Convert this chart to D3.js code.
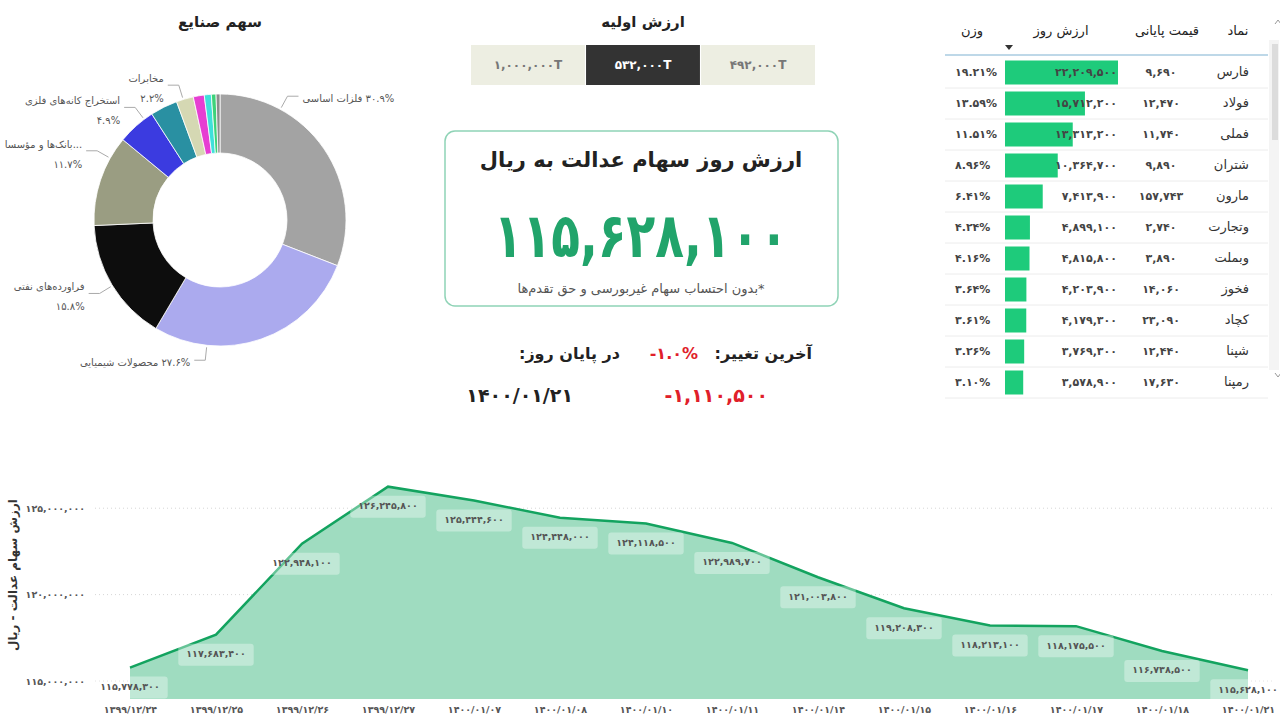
<!DOCTYPE html>
<html>
<head>
<meta charset="utf-8">
<script src="https://cdn.jsdelivr.net/npm/d3@7"></script>
<style>
  body { margin: 0; background: #fff; }
  svg { display: block; font-family: "DejaVu Sans", sans-serif; }
</style>
</head>
<body>
<script>
// ---- data ----
var industryNames = ["فلزات اساسی", "محصولات شیمیایی", "فراورده‌های نفتی", "...بانک‌ها و مؤسسا",
                     "استخراج کانه‌های فلزی", "سرمایه‌گذاری‌ها", "مخابرات", "خودرو", "سیمان", "دارویی", "سایر"];
var industryShares = [30.9, 27.6, 15.8, 11.7, 4.9, 3.5, 2.2, 1.4, 0.9, 0.6, 0.5];
var industryColors = ["#a3a3a3", "#abaaee", "#0d0d0d", "#9a9d82", "#3b3be0", "#2990a2",
                      "#d5d8b3", "#e63ed2", "#3fe0da", "#3ed27a", "#8c8c8c"];

var initialValues = ["1,000,000T", "532,000T", "492,000T"];
var selectedInitial = "532,000T";

var tableHeaders = ["نماد", "قیمت پایانی", "ارزش روز", "وزن"];
var tableSymbols = ["فارس", "فولاد", "فملی", "شتران", "مارون", "وتجارت", "وبملت", "فخوز", "کچاد", "شپنا", "رمپنا"];
var tablePrices = [9690, 12470, 11740, 9890, 157743, 2740, 3890, 14060, 23090, 12440, 17630];
var tableValues = [22209500, 15712200, 13313200, 10364700, 7413900, 4899100, 4815800, 4203900, 4179300, 3769300, 3578900];
var tableWeights = [19.21, 13.59, 11.51, 8.96, 6.41, 4.24, 4.16, 3.64, 3.61, 3.26, 3.10];

var dates = ["1399/12/24", "1399/12/25", "1399/12/26", "1399/12/27", "1400/01/07", "1400/01/08", "1400/01/10",
             "1400/01/11", "1400/01/14", "1400/01/15", "1400/01/16", "1400/01/17", "1400/01/18", "1400/01/21"];
var dailyValues = [115778300, 117683400, 122948100, 126245800, 125444600, 124448000, 124118500,
                   122989700, 121003800, 119208300, 118213100, 118175500, 116738500, 115628100];
var yTicks = [115000000, 120000000, 125000000];

var lastChange = -1110500;

// ---- helpers ----
var faDigits = "۰۱۲۳۴۵۶۷۸۹";
function fa(s) { return String(s).replace(/[0-9]/g, function(c) { return faDigits[+c]; }); }
var fmt = d3.format(",");

var width = 1280, height = 720;

var svg = d3.select("body")
    .append("svg")
    .attr("width", width)
    .attr("height", height);

svg.append("rect").attr("width", width).attr("height", height).attr("fill", "#fff");

// ================= donut =================
svg.append("text")
    .attr("x", 220).attr("y", 22)
    .attr("text-anchor", "middle").attr("dominant-baseline", "middle")
    .attr("font-size", 15).attr("font-weight", "bold").attr("fill", "#222")
    .text("سهم صنایع");

var cx = 220, cy = 220, rOut = 126, rIn = 67;
var pie = d3.pie().sort(null).value(function(d) { return d; });
var arcs = pie(industryShares);
var arc = d3.arc().innerRadius(rIn).outerRadius(rOut);

var donut = svg.append("g").attr("transform", "translate(" + cx + "," + cy + ")");
donut.selectAll("path")
    .data(arcs)
    .enter().append("path")
    .attr("d", arc)
    .attr("fill", function(d, i) { return industryColors[i]; })
    .attr("stroke", "#fff")
    .attr("stroke-width", 0.8);

// label layout: leader angle (deg) and side, for slices that get a label
var labelLayout = [
  { i: 0, angle: 28.6, side: "right", lines: 1 },
  { i: 1, angle: 186, side: "left", lines: 1 },
  { i: 2, angle: 238.6, side: "left", lines: 2 },
  { i: 3, angle: 299.4, side: "left", lines: 2 },
  { i: 4, angle: 323, side: "left", lines: 2 },
  { i: 6, angle: 343, side: "left", lines: 2 }
];

labelLayout.forEach(function(l) {
  var a = l.angle * Math.PI / 180;
  var p1 = [Math.sin(a) * (rOut + 2), -Math.cos(a) * (rOut + 2)];
  var p2 = [Math.sin(a) * (rOut + 15), -Math.cos(a) * (rOut + 15)];
  var dir = l.side === "right" ? 1 : -1;
  var p3 = [p2[0] + dir * 11, p2[1]];
  donut.append("polyline")
      .attr("points", [p1, p2, p3].map(function(p) { return p.join(","); }).join(" "))
      .attr("fill", "none").attr("stroke", "#aaa").attr("stroke-width", 1);
  var pct = fa(industryShares[l.i].toFixed(1)) + "%";
  var tx = p3[0] + dir * 4;
  if (l.lines === 1) {
    donut.append("text")
        .attr("x", tx).attr("y", p3[1] + 3)
        .attr("direction", "rtl")
        .attr("text-anchor", l.side === "right" ? "end" : "start")
        .attr("dominant-baseline", "middle")
        .attr("font-size", 10).attr("fill", "#555")
        .text(pct + " " + industryNames[l.i]);
  } else {
    donut.append("text")
        .attr("x", tx).attr("y", p3[1] - 6)
        .attr("direction", "rtl").attr("text-anchor", "start")
        .attr("dominant-baseline", "middle")
        .attr("font-size", 10).attr("fill", "#555")
        .text(industryNames[l.i]);
    donut.append("text")
        .attr("x", tx).attr("y", p3[1] + 14)
        .attr("text-anchor", "end")
        .attr("dominant-baseline", "middle")
        .attr("font-size", 10).attr("fill", "#555")
        .text(pct);
  }
});

// ================= initial value selector =================
svg.append("text")
    .attr("x", 643).attr("y", 22)
    .attr("text-anchor", "middle").attr("dominant-baseline", "middle")
    .attr("font-size", 15).attr("font-weight", "bold").attr("fill", "#222")
    .text("ارزش اولیه");

var bx = d3.scaleBand().domain(initialValues).range([471, 815]).paddingInner(0.01);
var btn = svg.append("g").selectAll("g")
    .data(initialValues)
    .enter().append("g");
btn.append("rect")
    .attr("x", function(d) { return bx(d); })
    .attr("y", 45).attr("width", bx.bandwidth()).attr("height", 40)
    .attr("fill", function(d) { return d === selectedInitial ? "#333" : "#edeee2"; });
btn.append("text")
    .attr("x", function(d) { return bx(d) + bx.bandwidth() / 2; })
    .attr("y", 65)
    .attr("text-anchor", "middle").attr("dominant-baseline", "middle")
    .attr("font-size", 12).attr("font-weight", "bold")
    .attr("fill", function(d) { return d === selectedInitial ? "#fff" : "#777"; })
    .text(function(d) { return fa(d); });

// ================= value card =================
svg.append("rect")
    .attr("x", 445).attr("y", 131).attr("width", 393).attr("height", 175)
    .attr("rx", 10).attr("fill", "#fff")
    .attr("stroke", "#8fd3b6").attr("stroke-width", 1.5);

svg.append("text")
    .attr("x", 641).attr("y", 161)
    .attr("text-anchor", "middle").attr("dominant-baseline", "middle")
    .attr("font-size", 21).attr("font-weight", "bold").attr("fill", "#222")
    .text("ارزش روز سهام عدالت به ریال");

var lastValue = dailyValues[dailyValues.length - 1];
var prevValue = dailyValues[dailyValues.length - 2];

svg.append("text")
    .attr("transform", "translate(641,240) scale(0.76,1)")
    .attr("text-anchor", "middle").attr("dominant-baseline", "middle")
    .attr("font-size", 62).attr("font-weight", "bold").attr("fill", "#21a46b")
    .text(fa(fmt(lastValue)));

svg.append("text")
    .attr("x", 641).attr("y", 289)
    .attr("direction", "rtl")
    .attr("text-anchor", "middle").attr("dominant-baseline", "middle")
    .attr("font-size", 13).attr("fill", "#555")
    .text("*بدون احتساب سهام غیربورسی و حق تقدم‌ها");

// last change
var pctChange = lastChange / prevValue * 100;
svg.append("text")
    .attr("x", 812).attr("y", 354).attr("direction", "rtl")
    .attr("text-anchor", "start").attr("dominant-baseline", "middle")
    .attr("font-size", 16).attr("font-weight", "bold").attr("fill", "#222")
    .text("آخرین تغییر:");
svg.append("text")
    .attr("x", 698).attr("y", 354)
    .attr("text-anchor", "end").attr("dominant-baseline", "middle")
    .attr("font-size", 16).attr("font-weight", "bold").attr("fill", "#e0202a")
    .text(fa(pctChange.toFixed(1)) + "%");
svg.append("text")
    .attr("x", 620).attr("y", 354).attr("direction", "rtl")
    .attr("text-anchor", "start").attr("dominant-baseline", "middle")
    .attr("font-size", 16).attr("font-weight", "bold").attr("fill", "#222")
    .text("در پایان روز:");
svg.append("text")
    .attr("x", 768).attr("y", 396)
    .attr("text-anchor", "end").attr("dominant-baseline", "middle")
    .attr("font-size", 19).attr("font-weight", "bold").attr("fill", "#e0202a")
    .text(fa(fmt(lastChange)).replace("−", "-"));
svg.append("text")
    .attr("x", 573).attr("y", 396)
    .attr("text-anchor", "end").attr("dominant-baseline", "middle")
    .attr("font-size", 19).attr("font-weight", "bold").attr("fill", "#222")
    .text(fa(dates[dates.length - 1]));

// ================= table =================
var tbl = svg.append("g");
var headerX = [1238, 1167, 1061, 972];
tbl.selectAll(".hdr")
    .data(tableHeaders)
    .enter().append("text")
    .attr("x", function(d, i) { return headerX[i]; })
    .attr("y", 31)
    .attr("text-anchor", "middle").attr("dominant-baseline", "middle")
    .attr("font-size", 13).attr("fill", "#222")
    .text(function(d) { return d; });
// sort arrow
tbl.append("path")
    .attr("d", "M1005,45 L1013,45 L1009,50 Z").attr("fill", "#333");
tbl.append("line")
    .attr("x1", 945).attr("x2", 1268).attr("y1", 55).attr("y2", 55)
    .attr("stroke", "#a9cbe0").attr("stroke-width", 1.5);

var rowY = d3.scaleBand().domain(d3.range(tableSymbols.length)).range([57, 398]);
var barX = d3.scaleLinear().domain([0, d3.max(tableValues)]).range([1005, 1118]);

var rows = tbl.selectAll(".row")
    .data(tableSymbols)
    .enter().append("g")
    .attr("transform", function(d, i) { return "translate(0," + rowY(i) + ")"; });
var rh = rowY.bandwidth();
rows.append("line")
    .attr("x1", 945).attr("x2", 1268).attr("y1", rh).attr("y2", rh)
    .attr("stroke", "#ececec");
rows.append("rect")
    .attr("x", barX(0)).attr("y", rh / 2 - 12)
    .attr("width", function(d, i) { return barX(tableValues[i]) - barX(0); })
    .attr("height", 24)
    .attr("fill", "#1ecb7b");
rows.append("text")
    .attr("x", 1249).attr("y", rh / 2).attr("direction", "rtl")
    .attr("text-anchor", "start").attr("dominant-baseline", "middle")
    .attr("font-size", 13).attr("fill", "#333")
    .text(function(d) { return d; });
rows.append("text")
    .attr("x", 1161).attr("y", rh / 2)
    .attr("text-anchor", "middle").attr("dominant-baseline", "middle")
    .attr("font-size", 11).attr("font-weight", "bold").attr("fill", "#444")
    .text(function(d, i) { return fa(fmt(tablePrices[i])); });
rows.append("text")
    .attr("x", 1117).attr("y", rh / 2)
    .attr("text-anchor", "end").attr("dominant-baseline", "middle")
    .attr("font-size", 11).attr("font-weight", "bold").attr("fill", "#444")
    .text(function(d, i) { return fa(fmt(tableValues[i])); });
rows.append("text")
    .attr("x", 955).attr("y", rh / 2)
    .attr("text-anchor", "start").attr("dominant-baseline", "middle")
    .attr("font-size", 11).attr("font-weight", "bold").attr("fill", "#444")
    .text(function(d, i) { return fa(tableWeights[i].toFixed(2)) + "%"; });

// scrollbar
tbl.append("rect").attr("x", 1269).attr("y", 40).attr("width", 10).attr("height", 330).attr("fill", "#f4f4f4");
tbl.append("rect").attr("x", 1272).attr("y", 44).attr("width", 6).attr("height", 96).attr("fill", "#dcdcdc");
tbl.append("path").attr("d", "M1275,24 L1278,20 L1281,24").attr("fill", "none").attr("stroke", "#999");
tbl.append("path").attr("d", "M1275,373 L1278,377 L1281,373").attr("fill", "none").attr("stroke", "#999");

// ================= area chart =================
var x = d3.scalePoint().domain(dates).range([130, 1248]);
var y = d3.scaleLinear().domain([113960000, 127500000]).range([699, 465]);

var chart = svg.append("g");

chart.selectAll(".grid")
    .data(yTicks)
    .enter().append("line")
    .attr("x1", 95).attr("x2", 1275)
    .attr("y1", function(d) { return y(d); }).attr("y2", function(d) { return y(d); })
    .attr("stroke", "#d6d6d6").attr("stroke-dasharray", "1,3");

var area = d3.area()
    .x(function(d, i) { return x(dates[i]); })
    .y0(y(y.domain()[0]))
    .y1(function(d) { return y(d); });
var line = d3.line()
    .x(function(d, i) { return x(dates[i]); })
    .y(function(d) { return y(d); });

chart.append("path").datum(dailyValues).attr("d", area).attr("fill", "#9fdcc0");
chart.append("path").datum(dailyValues).attr("d", line)
    .attr("fill", "none").attr("stroke", "#13a35f").attr("stroke-width", 2.5);

// y axis
var yAxis = chart.append("g")
    .attr("transform", "translate(88,0)")
    .call(d3.axisLeft(y).tickValues(yTicks).tickSize(0).tickFormat(function(d) { return fa(fmt(d)); }));
yAxis.select(".domain").remove();
yAxis.selectAll("text")
    .attr("font-family", "DejaVu Sans").attr("font-size", 9.5).attr("font-weight", "bold").attr("fill", "#555");

// x axis
var xAxis = chart.append("g")
    .attr("transform", "translate(0,703)")
    .call(d3.axisBottom(x).tickSize(0).tickFormat(function(d) { return fa(d); }));
xAxis.select(".domain").remove();
xAxis.selectAll("text")
    .attr("font-family", "DejaVu Sans").attr("font-size", 9.5).attr("font-weight", "bold").attr("fill", "#555");

chart.append("text")
    .attr("transform", "translate(13,575) rotate(-90)")
    .attr("text-anchor", "middle").attr("dominant-baseline", "middle")
    .attr("font-size", 12).attr("font-weight", "bold").attr("fill", "#333")
    .text("ارزش سهام عدالت - ریال");

// data labels
var lbl = chart.selectAll(".lbl")
    .data(dailyValues)
    .enter().append("g")
    .attr("transform", function(d, i) { return "translate(" + x(dates[i]) + "," + (y(d) + 20) + ")"; });
lbl.append("rect").attr("class", "bg");
lbl.append("text")
    .attr("text-anchor", "middle").attr("dominant-baseline", "middle")
    .attr("font-size", 9.5).attr("font-weight", "bold").attr("fill", "#555")
    .text(function(d) { return fa(fmt(d)); });
lbl.each(function() {
  var g = d3.select(this);
  var w = g.select("text").node().getComputedTextLength() + 16;
  g.select("rect")
      .attr("x", -w / 2).attr("y", -11).attr("width", w).attr("height", 22)
      .attr("rx", 3).attr("fill", "#fff").attr("fill-opacity", 0.35);
});
</script>
</body>
</html>
